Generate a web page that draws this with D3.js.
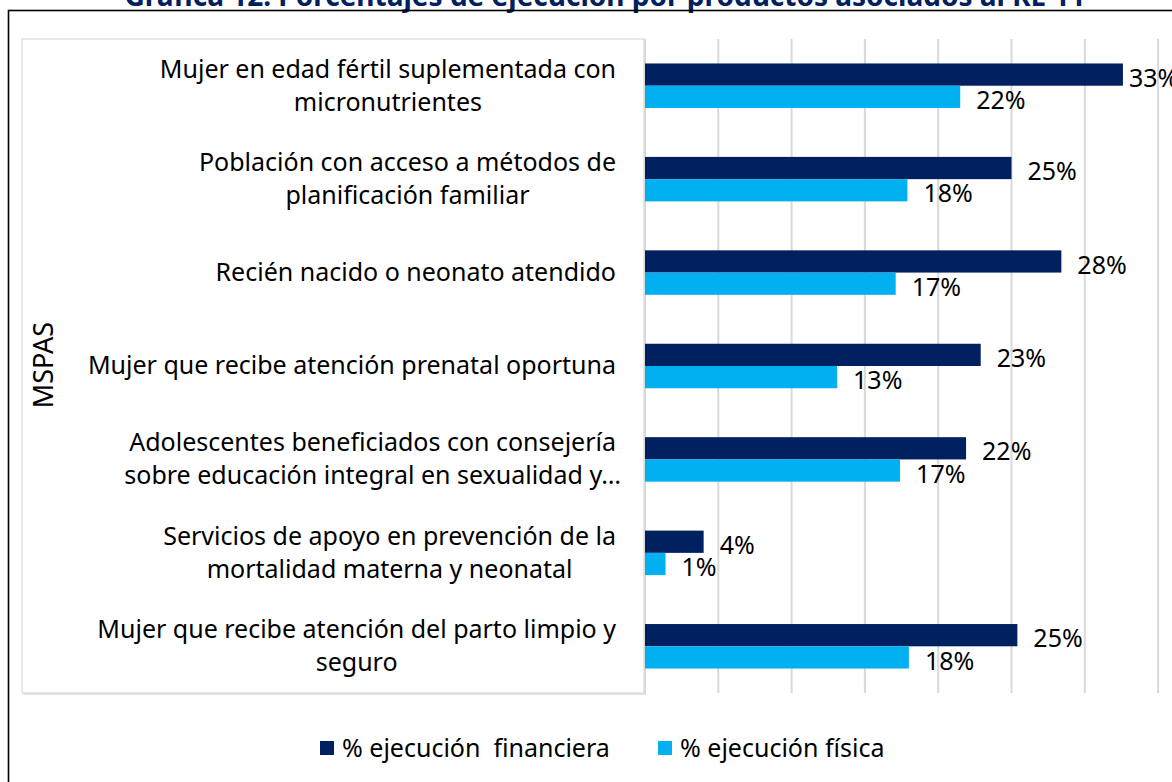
<!DOCTYPE html>
<html>
<head>
<meta charset="utf-8">
<style>
body { margin: 0; background: #fff; }
svg { display: block; font-family: "Noto Sans", "Open Sans", sans-serif; }
</style>
<script src="https://d3js.org/d3.v7.min.js"></script>
</head>
<body>
<svg width="1172" height="782"></svg>
<script>
// productos asociados al RE 11
var categorias = [
  ["Mujer en edad fértil suplementada con", "micronutrientes"],
  ["Población con acceso a métodos de", "planificación familiar"],
  ["Recién nacido o neonato atendido"],
  ["Mujer que recibe atención prenatal oportuna"],
  ["Adolescentes beneficiados con consejería", "sobre educación integral en sexualidad y…"],
  ["Servicios de apoyo en prevención de la", "mortalidad materna y neonatal"],
  ["Mujer que recibe atención del parto limpio y", "seguro"]
];
var financiera = [0.326, 0.25, 0.284, 0.229, 0.219, 0.040, 0.254];
var fisica     = [0.215, 0.179, 0.171, 0.131, 0.174, 0.014, 0.180];
var series = ["% ejecución  financiera", "% ejecución física"];
var colores = ["#002060", "#00B0F0"];
var gridTicks = [0, 0.05, 0.1, 0.15, 0.2, 0.25, 0.3, 0.35, 0.4];

var svg = d3.select("svg");

// titulo (recortado arriba)
svg.append("text")
   .attr("x", 605).attr("y", 6)
   .attr("text-anchor", "middle")
   .attr("font-weight", "bold")
   .attr("font-size", 28)
   .attr("fill", "#002060")
   .text("Gráfica 12. Porcentajes de ejecución por productos asociados al RE 11");

// marco
svg.append("rect")
   .attr("x", 8.5).attr("y", 10.5)
   .attr("width", 1200).attr("height", 800)
   .attr("fill", "none").attr("stroke", "#000").attr("stroke-width", 1.6);

var yTop = 39, yBottom = 693, x0 = 645;

var x = d3.scaleLinear().domain([0, 0.4]).range([x0, x0 + 8 * 73.3]);
var y = d3.scaleBand().domain(d3.range(categorias.length)).range([yTop, yBottom]);
var inner = d3.scaleBand().domain([0, 1]).range([0, y.bandwidth()]).paddingOuter(1.1).paddingInner(0);

// caja de etiquetas
svg.append("rect")
   .attr("x", 23).attr("y", yTop + 1)
   .attr("width", x0 - 22).attr("height", yBottom - yTop + 1)
   .attr("fill", "#e3e3e3");
svg.append("rect")
   .attr("x", 22).attr("y", yTop)
   .attr("width", x0 - 23).attr("height", yBottom - yTop)
   .attr("fill", "#fff").attr("stroke", "#d9d9d9").attr("stroke-width", 1.2);

// lineas de cuadricula
svg.append("g")
   .selectAll("line")
   .data(gridTicks.filter(function(d) { return x(d) < 1180; }))
   .enter().append("line")
   .attr("x1", function(d) { return x(d); })
   .attr("x2", function(d) { return x(d); })
   .attr("y1", yTop).attr("y2", yBottom)
   .attr("stroke", "#d9d9d9").attr("stroke-width", 2);

var data = categorias.map(function(c, i) {
  return { i: i, vals: [financiera[i], fisica[i]] };
});

var grupos = svg.append("g").selectAll("g")
   .data(data)
   .enter().append("g")
   .attr("transform", function(d) { return "translate(0," + y(d.i) + ")"; });

grupos.selectAll("rect")
   .data(function(d) { return d.vals; })
   .enter().append("rect")
   .attr("x", x(0))
   .attr("y", function(d, j) { return inner(j); })
   .attr("width", function(d) { return x(d) - x(0); })
   .attr("height", inner.bandwidth())
   .attr("fill", function(d, j) { return colores[j]; });

grupos.selectAll("text.val")
   .data(function(d) { return d.vals; })
   .enter().append("text")
   .attr("class", "val")
   .attr("x", function(d) { return Math.min(x(d) + 16, 1129); })
   .attr("y", function(d, j) { return inner(j) + inner.bandwidth() + 1; })
   .attr("font-size", 25)
   .attr("fill", "#000")
   .text(function(d) { return d3.format(".0%")(d); });

// etiquetas de categoria
var etiquetas = svg.append("g").selectAll("text")
   .data(categorias)
   .enter().append("text")
   .attr("font-size", 25)
   .attr("fill", "#000")
   .attr("text-anchor", "middle");

etiquetas.each(function(lines, i) {
  var t = d3.select(this);
  var cy = y(i) + y.bandwidth() / 2;
  var tmp = t.append("tspan").text(lines[0]);
  var w = tmp.node().getComputedTextLength();
  tmp.remove();
  var cx = 616 - w / 2;
  lines.forEach(function(l, k) {
    var base = lines.length === 1 ? cy + 8 : cy - 8 + k * 33;
    t.append("tspan").attr("x", cx).attr("y", base).text(l);
  });
});

// titulo de eje vertical
svg.append("text")
   .attr("transform", "translate(53,365) rotate(-90)")
   .attr("text-anchor", "middle")
   .attr("font-size", 27)
   .text("MSPAS");

// leyenda
var leyenda = svg.append("g").attr("transform", "translate(0,748)");
var lx = [320, 658];
series.forEach(function(s, j) {
  leyenda.append("rect")
     .attr("x", lx[j]).attr("y", -7)
     .attr("width", 14).attr("height", 14)
     .attr("fill", colores[j]);
  leyenda.append("text")
     .attr("x", lx[j] + 22).attr("y", 9)
     .attr("font-size", 25)
     .attr("xml:space", "preserve")
     .style("white-space", "pre")
     .text(s);
});
</script>
</body>
</html>
